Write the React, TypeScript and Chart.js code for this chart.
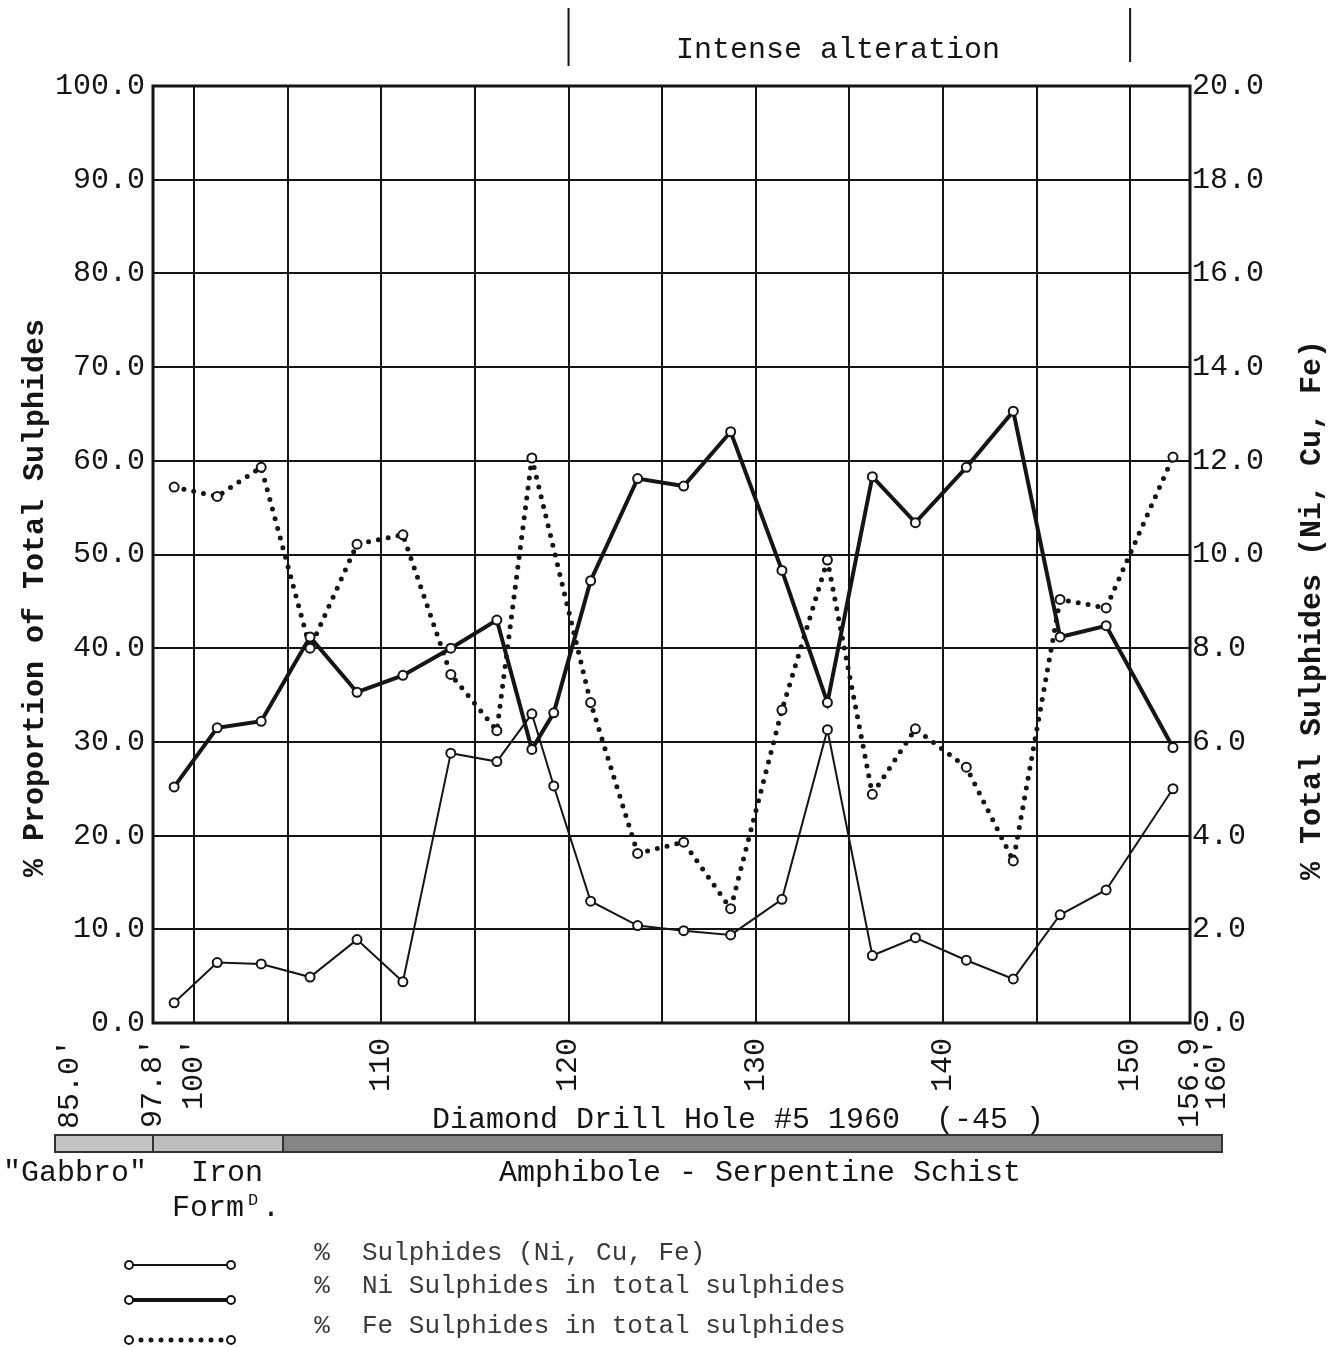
import React, { useEffect, useRef } from 'react';
import { Chart, registerables } from 'chart.js';

Chart.register(...registerables);

// ---- data (depth in feet along hole) ----
const depths = [98.93, 101.23, 103.58, 106.19, 108.7, 111.15, 113.71, 116.17, 118.04, 119.21, 121.18, 123.69, 126.15, 128.66, 131.4, 133.83, 136.23, 138.53, 141.25, 143.76, 146.26, 148.72, 152.29];
const niSulphides = [25.2, 31.5, 32.2, 41.2, 35.3, 37.1, 40.0, 43.0, 29.2, 33.1, 47.2, 58.1, 57.3, 63.1, 48.3, 34.2, 58.3, 53.4, 59.3, 65.3, 41.2, 42.4, 29.4];
const feSulphides = [57.2, 56.2, 59.3, 40.0, 51.1, 52.1, 37.2, 31.2, 60.3, null, 34.2, 18.1, 19.3, 12.2, 33.4, 49.4, 24.4, 31.4, 27.3, 17.3, 45.2, 44.3, 60.4];
const totalSulphides = [0.43, 1.29, 1.26, 0.98, 1.78, 0.88, 5.76, 5.58, 6.6, 5.06, 2.6, 2.08, 1.97, 1.88, 2.64, 6.26, 1.44, 1.82, 1.34, 0.94, 2.31, 2.84, 5.0];

const seriesLabels = [
  '% Sulphides (Ni, Cu, Fe)',
  '% Ni Sulphides in total sulphides',
  '% Fe Sulphides in total sulphides',
];

const xTickValues = [97.8, 100, 105, 110, 115, 120, 125, 130, 135, 140, 145, 150, 153.2];
const xTickLabels: (string | string[])[] = ["97.8'", "100'", '', '110', '', '120', '', '130', '', '140', '', '150', ['156.9', "160'"]];
const leftTitle = '% Proportion of Total Sulphides';
const rightTitle = '% Total Sulphides (Ni, Cu, Fe)';
const topNote = 'Intense alteration';
const alterationRange = [120, 150];
const holeTitle = 'Diamond Drill Hole #5 1960  (-45 )';
const rockUnits = ['"Gabbro"', 'Iron', 'Amphibole - Serpentine Schist'];
const startDepthLabel = "85.0'";

const FONT = '"Liberation Mono", "Courier New", monospace';
const INK = '#151515';

const pairs = (ys: (number | null)[]) => depths.map((x, i) => ({ x, y: ys[i] }));

function rotText(ctx: CanvasRenderingContext2D, text: string, x: number, y: number, align: CanvasTextAlign) {
  ctx.save();
  ctx.translate(x, y);
  ctx.rotate(-Math.PI / 2);
  ctx.textAlign = align;
  ctx.textBaseline = 'middle';
  ctx.fillText(text, 0, 0);
  ctx.restore();
}

const decorPlugin = {
  id: 'decor',
  beforeDatasetsDraw(chart: any) {
    const { ctx, chartArea: a } = chart;
    ctx.save();
    ctx.strokeStyle = INK;
    ctx.lineWidth = 3;
    ctx.strokeRect(a.left, a.top, a.right - a.left, a.bottom - a.top);
    ctx.restore();
  },
  afterDraw(chart: any) {
    const { ctx, chartArea: a } = chart;
    const xs = chart.scales.x;
    ctx.save();
    ctx.fillStyle = INK;
    ctx.strokeStyle = INK;

    // axis titles
    ctx.font = `bold 30px ${FONT}`;
    rotText(ctx, leftTitle, 35, 598, 'center');
    rotText(ctx, rightTitle, 1312, 610, 'center');

    // top alteration note
    ctx.lineWidth = 2;
    const xa = xs.getPixelForValue(alterationRange[0]);
    const xb = xs.getPixelForValue(alterationRange[1]);
    ctx.beginPath();
    ctx.moveTo(xa, 8); ctx.lineTo(xa, 66);
    ctx.moveTo(xb, 8); ctx.lineTo(xb, 62);
    ctx.stroke();
    ctx.font = `30px ${FONT}`;
    ctx.textAlign = 'center';
    ctx.textBaseline = 'middle';
    ctx.fillText(topNote, 838, 50);

    // 85.0' label
    ctx.font = `30px ${FONT}`;
    rotText(ctx, startDepthLabel, 70, 1039, 'right');

    // hole title
    ctx.textAlign = 'left';
    ctx.textBaseline = 'middle';
    ctx.fillText(holeTitle, 432, 1120);

    // lithology bar
    const barTop = 1135, barH = 17;
    const b0 = 55, b1 = a.left, b2 = 283, b3 = 1222;
    ctx.fillStyle = '#c4c4c4';
    ctx.fillRect(b0, barTop, b1 - b0, barH);
    ctx.fillStyle = '#bdbdbd';
    ctx.fillRect(b1, barTop, b2 - b1, barH);
    ctx.fillStyle = '#858585';
    ctx.fillRect(b2, barTop, b3 - b2, barH);
    ctx.lineWidth = 2;
    ctx.strokeStyle = '#333';
    ctx.strokeRect(b0, barTop, b3 - b0, barH);
    ctx.beginPath();
    ctx.moveTo(b1, barTop); ctx.lineTo(b1, barTop + barH);
    ctx.moveTo(b2, barTop); ctx.lineTo(b2, barTop + barH);
    ctx.stroke();

    // rock unit names
    ctx.fillStyle = INK;
    ctx.font = `30px ${FONT}`;
    ctx.textAlign = 'center';
    ctx.fillText(rockUnits[0], 75, 1173);
    ctx.fillText(rockUnits[1], 227, 1173);
    ctx.fillText(rockUnits[2], 760, 1173);
    ctx.textAlign = 'left';
    ctx.fillText('Form', 172, 1208);
    ctx.font = `17px ${FONT}`;
    ctx.fillText('D', 248, 1200);
    ctx.font = `30px ${FONT}`;
    ctx.fillText('.', 262, 1208);

    // legend
    const ds = chart.data.datasets;
    const lineRows = [1265, 1300, 1340];
    const textRows = [1253, 1286, 1326];
    for (let i = 0; i < 3; i++) {
      const d = ds[i];
      const y = lineRows[i];
      ctx.save();
      ctx.strokeStyle = INK;
      ctx.lineWidth = d.borderWidth;
      ctx.lineCap = d.borderCapStyle || 'butt';
      ctx.setLineDash(d.borderDash || []);
      ctx.beginPath();
      ctx.moveTo(131, y);
      ctx.lineTo(229, y);
      ctx.stroke();
      ctx.setLineDash([]);
      ctx.lineWidth = 2;
      ctx.fillStyle = '#fff';
      for (const cx of [129, 231]) {
        ctx.beginPath();
        ctx.arc(cx, y, 4, 0, Math.PI * 2);
        ctx.fill();
        ctx.stroke();
      }
      ctx.restore();
      const lbl: string = d.label;
      const sp = lbl.indexOf(' ');
      ctx.fillStyle = '#3a3a3a';
      ctx.font = `26px ${FONT}`;
      ctx.textAlign = 'center';
      ctx.textBaseline = 'middle';
      ctx.fillText(lbl.slice(0, sp), 322, textRows[i]);
      ctx.textAlign = 'left';
      ctx.fillText(lbl.slice(sp + 1), 362, textRows[i]);
    }
    ctx.restore();
  },
};

export default function App() {
  const ref = useRef<HTMLCanvasElement>(null);
  useEffect(() => {
    if (!ref.current) return;
    const pointOpts = {
      pointRadius: 4.5,
      pointBorderWidth: 2,
      pointBackgroundColor: '#ffffff',
      pointBorderColor: INK,
    };
    const chart = new Chart(ref.current, {
      type: 'line',
      data: {
        datasets: [
          {
            label: seriesLabels[0],
            data: pairs(totalSulphides),
            yAxisID: 'yR',
            borderColor: INK,
            borderWidth: 2,
            ...pointOpts,
          },
          {
            label: seriesLabels[1],
            data: pairs(niSulphides),
            yAxisID: 'y',
            borderColor: INK,
            borderWidth: 4,
            ...pointOpts,
          },
          {
            label: seriesLabels[2],
            data: pairs(feSulphides),
            yAxisID: 'y',
            borderColor: INK,
            borderWidth: 5,
            borderDash: [0, 10],
            borderCapStyle: 'round',
            spanGaps: true,
            ...pointOpts,
          },
        ] as any,
      },
      options: {
        animation: false,
        responsive: false,
        devicePixelRatio: 1,
        layout: { padding: { top: 86, left: 0, right: 0, bottom: 0 } },
        plugins: { legend: { display: false }, tooltip: { enabled: false } },
        scales: {
          x: {
            type: 'linear',
            min: 97.8,
            max: 153.2,
            afterBuildTicks: (s: any) => {
              s.ticks = xTickValues.map((v) => ({ value: v }));
            },
            afterFit: (s: any) => {
              s.height = 324;
            },
            grid: { color: INK, lineWidth: 2, drawTicks: false },
            border: { display: false },
            ticks: {
              autoSkip: false,
              minRotation: 90,
              maxRotation: 90,
              padding: 15,
              color: INK,
              font: { family: FONT, size: 30, lineHeight: 0.9 },
              callback: (v: any, i: number) => xTickLabels[i],
            },
          },
          y: {
            position: 'left',
            min: 0,
            max: 100,
            afterFit: (s: any) => {
              s.width = 153;
            },
            grid: { color: INK, lineWidth: 2, drawTicks: false },
            border: { display: false },
            ticks: {
              stepSize: 10,
              padding: 8,
              color: INK,
              font: { family: FONT, size: 30 },
              callback: (v: any) => Number(v).toFixed(1),
            },
          },
          yR: {
            position: 'right',
            min: 0,
            max: 20,
            afterFit: (s: any) => {
              s.width = 144;
            },
            grid: { display: false, drawTicks: false },
            border: { display: false },
            ticks: {
              stepSize: 2,
              padding: 2,
              color: INK,
              font: { family: FONT, size: 30 },
              callback: (v: any) => Number(v).toFixed(1),
            },
          },
        },
      } as any,
      plugins: [decorPlugin],
    });
    return () => chart.destroy();
  }, []);
  return (
    <div style={{ position: 'absolute', left: 0, top: 0, width: 1334, height: 1347, background: '#fff' }}>
      <canvas ref={ref} width={1334} height={1347} style={{ display: 'block' }} />
    </div>
  );
}
